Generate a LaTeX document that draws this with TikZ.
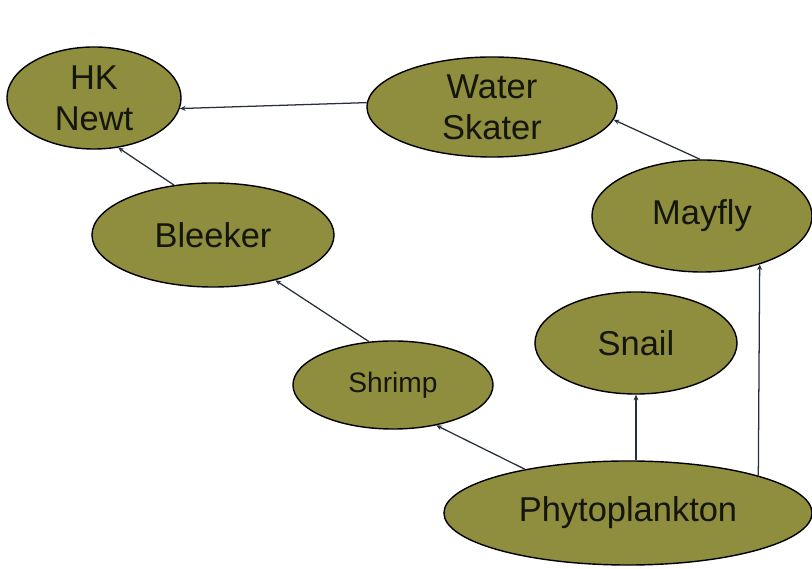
\documentclass[tikz,border=0pt]{standalone}
\usepackage{fontspec}
\setmainfont{Liberation Sans}
\usetikzlibrary{shapes.geometric,arrows.meta}
\definecolor{olivefill}{RGB}{143,141,62}
\definecolor{inktext}{RGB}{20,22,12}
\definecolor{linkcol}{RGB}{40,48,60}
\tikzset{
  eco/.style={ellipse, draw=black, line width=1pt, fill=olivefill, inner sep=0pt,
    text=inktext, align=center, font=\fontsize{24.5}{29}\selectfont},
  feed/.style={draw=linkcol, line width=0.9pt, -{Stealth[length=4pt,width=3.5pt]}}
}
\begin{document}
\begin{tikzpicture}[x=0.025cm,y=-0.025cm]
\useasboundingbox (0,0) rectangle (812,569);
\node[eco, minimum width=4.35cm, minimum height=2.55cm] (hk) at (94,98) {HK\\Newt};
\node[eco, minimum width=6.25cm, minimum height=2.5cm] (ws) at (492,107) {Water\\Skater};
\node[eco, minimum width=6.05cm, minimum height=2.6cm] (bl) at (213,235) {Bleeker};
\node[eco, minimum width=5.5cm, minimum height=2.8cm] (mf) at (702,216) {Mayfly};
\node[eco, minimum width=5.05cm, minimum height=2.55cm] (sn) at (636,343) {Snail};
\node[eco, minimum width=5.0cm, minimum height=2.2cm, font=\fontsize{20}{24}\selectfont] (sh) at (393,385) {Shrimp};
\node[eco, minimum width=9.2cm, minimum height=2.6cm] (ph) at (628,513) {Phytoplankton};

\draw[feed] (ws.178.6) -- (hk.-7.9);
\draw[feed] (bl.128.7) -- (hk.-64.4);
\draw[feed] (mf.92) -- (ws.-6);
\draw[feed] (sh.119) -- (bl.-36.3);
\draw[feed] (ph.157.4) -- (sh.-43.2);
\draw[feed] (sn.south |- ph.north) -- (sn.south);
\draw[feed] (ph.16) -- (mf.-40.8);
\end{tikzpicture}
\end{document}
